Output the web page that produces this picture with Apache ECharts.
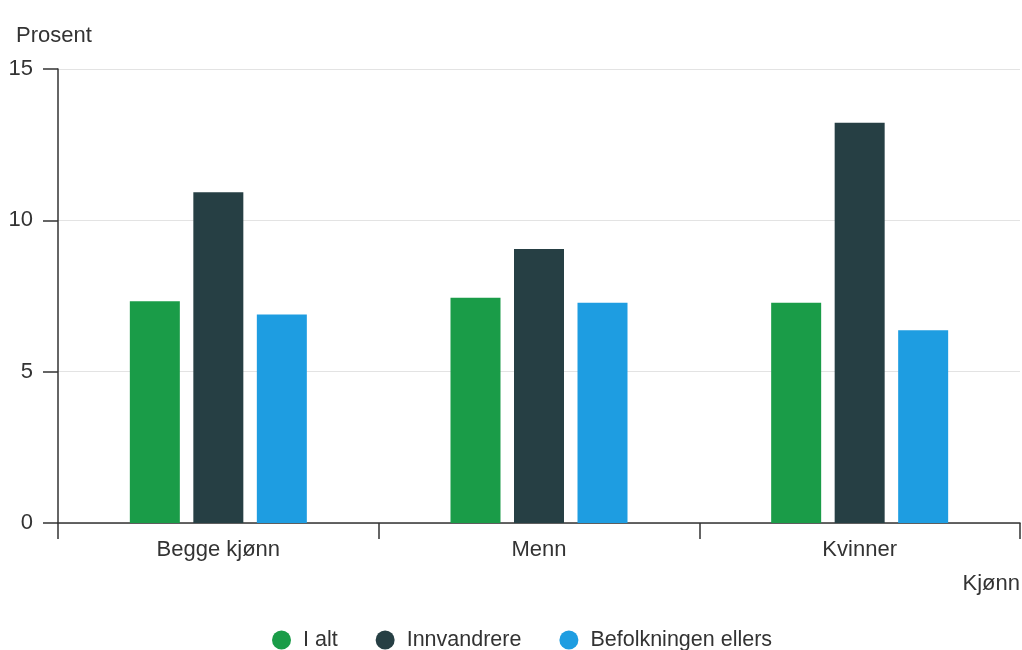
<!DOCTYPE html>
<html>
<head>
<meta charset="utf-8">
<script src="https://cdn.jsdelivr.net/npm/echarts@6/dist/echarts.min.js"></script>
<style>
html,body{margin:0;padding:0;background:#fff;}
#chart{width:1022px;height:650px;}
</style>
</head>
<body>
<div id="chart"></div>
<script>
const categories = ['Begge kjønn', 'Menn', 'Kvinner'];
const seriesNames = ['I alt', 'Innvandrere', 'Befolkningen ellers'];
const iAlt = [7.33, 7.44, 7.28];
const innvandrere = [10.93, 9.05, 13.22];
const befolkningenEllers = [6.89, 7.28, 6.37];
const yTicks = [0, 5, 10, 15];
const colors = ['#1a9c48', '#263f44', '#1e9de1'];

const chart = echarts.init(document.getElementById('chart'), null, {renderer: 'canvas'});
const font = 'Liberation Sans, Arial, sans-serif';
const textColor = '#333';

chart.setOption({
  animation: false,
  textStyle: {fontFamily: font, color: textColor},
  grid: {left: 58, right: 2, top: 69, bottom: 127, containLabel: false, outerBoundsMode: 'none'},
  legend: {
    data: seriesNames,
    left: 272,
    top: 629,
    padding: 0,
    icon: 'circle',
    itemWidth: 19,
    itemHeight: 19,
    itemGap: 38,
    textStyle: {fontSize: 21.5, color: textColor, fontFamily: font, padding: [3, 0, 0, 7]}
  },
  xAxis: {
    type: 'category',
    data: categories,
    name: 'Kjønn',
    nameLocation: 'end',
    nameGap: 0,
    nameTextStyle: {fontSize: 22, color: textColor, align: 'right', verticalAlign: 'top', padding: [50, 0, 0, 0]},
    axisLine: {lineStyle: {color: '#333', width: 1.5}},
    axisTick: {show: true, length: 16, lineStyle: {color: '#333', width: 1.5}},
    axisLabel: {fontSize: 22, color: textColor, margin: 16}
  },
  yAxis: {
    type: 'value',
    min: yTicks[0],
    max: yTicks[yTicks.length - 1],
    interval: 5,
    name: 'Prosent',
    nameLocation: 'end',
    nameGap: 22,
    nameTextStyle: {fontSize: 22, color: textColor, align: 'left', padding: [0, 0, 0, -42]},
    axisLine: {show: true, lineStyle: {color: '#333', width: 1.5}},
    axisTick: {show: true, length: 15, lineStyle: {color: '#333', width: 1.5}},
    axisLabel: {fontSize: 22, color: textColor, margin: 25},
    splitLine: {lineStyle: {color: '#e3e3e3', width: 1}}
  },
  series: [
    {name: seriesNames[0], type: 'bar', data: iAlt, itemStyle: {color: colors[0]}, barWidth: 50, barGap: '27%'},
    {name: seriesNames[1], type: 'bar', data: innvandrere, itemStyle: {color: colors[1]}, barWidth: 50, barGap: '27%'},
    {name: seriesNames[2], type: 'bar', data: befolkningenEllers, itemStyle: {color: colors[2]}, barWidth: 50, barGap: '27%'}
  ]
});
</script>
</body>
</html>
